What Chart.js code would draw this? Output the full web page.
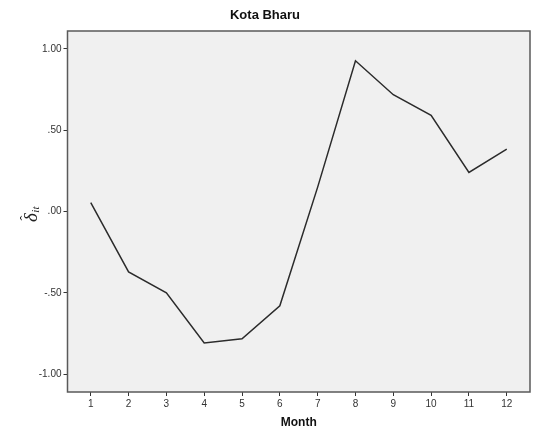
<!DOCTYPE html>
<html>
<head>
<meta charset="utf-8">
<script src="https://cdn.jsdelivr.net/npm/chart.js@4.4.1/dist/chart.umd.min.js"></script>
<style>
  html, body { margin: 0; padding: 0; background: #ffffff; }
  #wrap { width: 538px; height: 430px; }
</style>
</head>
<body>
<div id="wrap"><canvas id="c" width="538" height="430"></canvas></div>
<script>
// Monthly effect estimates for Kota Bharu
const months = [1, 2, 3, 4, 5, 6, 7, 8, 9, 10, 11, 12];
const delta = [0.055, -0.371, -0.500, -0.808, -0.783, -0.580, 0.150, 0.927, 0.718, 0.591, 0.240, 0.384];
const yTicks = [-1.0, -0.5, 0.0, 0.5, 1.0];

const FONT = "'Liberation Sans', Arial, sans-serif";
const INK = '#333333';

// format like 1.00 / .50 / .00 / -.50
function fmt(v) {
  let s = Math.abs(v).toFixed(2);
  if (s.startsWith('0')) s = s.slice(1);
  return (v < 0 ? '-' : '') + s;
}

const frame = {
  id: 'frame',
  beforeDraw(chart) {
    const { ctx, chartArea: a } = chart;
    ctx.save();
    ctx.fillStyle = '#f0f0f0';
    ctx.fillRect(a.left, a.top, a.right - a.left, a.bottom - a.top);
    ctx.restore();
  },
  afterDraw(chart) {
    const { ctx, chartArea: a } = chart;
    ctx.save();
    ctx.strokeStyle = '#5a5a5a';
    ctx.lineWidth = 1.5;
    ctx.strokeRect(a.left, a.top, a.right - a.left, a.bottom - a.top);
    // y-axis symbol: delta-hat with subscript "it", rotated
    ctx.translate(37, 222);
    ctx.rotate(-Math.PI / 2);
    ctx.fillStyle = '#222';
    ctx.textBaseline = 'alphabetic';
    ctx.textAlign = 'left';
    ctx.font = "italic 19px 'Liberation Serif', 'DejaVu Serif', serif";
    ctx.fillText('\u03B4', 0, 0);
    const w = ctx.measureText('\u03B4').width;
    ctx.font = "15px 'Liberation Serif', serif";
    ctx.fillText('\u02C6', 1.5, -7);
    ctx.font = "italic 11px 'Liberation Serif', serif";
    ctx.fillText('it', w + 0.5, 2);
    ctx.restore();
  }
};

new Chart(document.getElementById('c'), {
  type: 'line',
  data: {
    datasets: [{
      data: months.map((m, i) => ({ x: m, y: delta[i] })),
      borderColor: '#2b2b2b',
      borderWidth: 1.5,
      pointRadius: 0,
      tension: 0,
      fill: false
    }]
  },
  options: {
    responsive: false,
    animation: false,
    layout: { padding: { left: 0, right: 8, top: 0, bottom: 0 } },
    plugins: {
      legend: { display: false },
      tooltip: { enabled: false },
      title: {
        display: true,
        text: 'Kota Bharu',
        color: '#111',
        font: { family: FONT, size: 13, weight: 'bold' },
        padding: { top: 8, bottom: 7.4 }
      }
    },
    scales: {
      x: {
        type: 'linear',
        min: 0.385,
        max: 12.615,
        afterBuildTicks: s => { s.ticks = months.map(v => ({ value: v })); },
        afterFit: s => { s.height = 38; },
        grid: { drawOnChartArea: false, drawTicks: true, tickLength: 4, color: INK, lineWidth: 1 },
        border: { display: false },
        ticks: {
          color: '#333', padding: 2, maxRotation: 0,
          font: { family: FONT, size: 10 },
          callback: v => String(v)
        },
        title: {
          display: true, text: 'Month', color: '#111',
          font: { family: FONT, size: 12, weight: 'bold' },
          padding: { top: 0, bottom: 0 }
        }
      },
      y: {
        min: -1.11,
        max: 1.11,
        afterBuildTicks: s => { s.ticks = yTicks.map(v => ({ value: v })); },
        afterFit: s => { s.width = 67.5; },
        grid: { drawOnChartArea: false, drawTicks: true, tickLength: 4, color: INK, lineWidth: 1 },
        border: { display: false },
        ticks: {
          color: '#333', padding: 2,
          font: { family: FONT, size: 10 },
          callback: v => fmt(v)
        }
      }
    }
  },
  plugins: [frame]
});
</script>
</body>
</html>
